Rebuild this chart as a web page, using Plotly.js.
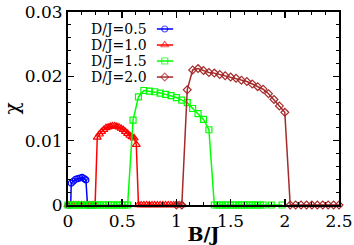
<!DOCTYPE html>
<html>
<head>
<meta charset="utf-8">
<script src="https://cdn.plot.ly/plotly-3.0.1.min.js"></script>
<style>html,body{margin:0;padding:0;background:#fff;}#chart{width:354px;height:245px;}</style>
</head>
<body>
<div id="chart"></div>
<script>
// ---- data ----
const seriesNames = ["D/J=0.5", "D/J=1.0", "D/J=1.5", "D/J=2.0"];

const blueB   = [0, 0.015, 0.025, 0.03, 0.05, 0.07, 0.09, 0.11, 0.13, 0.15, 0.165, 0.18, 0.2, 0.22, 0.24];
const blueChi = [0, 0, 0, 0.0034, 0.0037, 0.0040, 0.0041, 0.0042, 0.0043, 0.0041, 0.0039, 0, 0, 0, 0];

const redB = [0, 0.025, 0.05, 0.075, 0.1, 0.125, 0.15, 0.175, 0.2, 0.225, 0.25,
  0.27, 0.29, 0.31, 0.33, 0.35, 0.37, 0.39, 0.41, 0.43, 0.45, 0.47, 0.49, 0.51, 0.53, 0.55, 0.57, 0.59, 0.61, 0.63,
  0.65, 0.675, 0.7, 0.725, 0.75, 0.775, 0.8, 0.825, 0.85, 0.875, 0.9, 0.925, 0.95, 0.975, 1.0, 1.025, 1.05];
const redChi = [0, 0, 0, 0, 0, 0, 0, 0, 0, 0, 0,
  0.0105, 0.0110, 0.0114, 0.0117, 0.0120, 0.0121, 0.0122, 0.0123, 0.0123, 0.0122, 0.0121, 0.0119, 0.0117, 0.0114, 0.0111, 0.0108, 0.0106, 0.0104, 0.0094,
  0, 0, 0, 0, 0, 0, 0, 0, 0, 0, 0, 0, 0, 0, 0, 0, 0];

const greenB = [0, 0.025, 0.05, 0.075, 0.1, 0.125, 0.15, 0.175, 0.2, 0.225, 0.25, 0.275, 0.3, 0.325, 0.35, 0.375, 0.4, 0.425, 0.45, 0.475, 0.5, 0.525, 0.55,
  0.6, 0.65, 0.7, 0.75, 0.8, 0.85, 0.9, 0.95, 1.0, 1.05, 1.1, 1.15, 1.2, 1.25, 1.3,
  1.35, 1.375, 1.4, 1.425, 1.45, 1.475, 1.5, 1.525, 1.55, 1.575, 1.6, 1.625, 1.65, 1.675, 1.7, 1.725, 1.75, 1.775, 1.8, 1.875, 1.975];
const greenChi = [0, 0, 0, 0, 0, 0, 0, 0, 0, 0, 0, 0, 0, 0, 0, 0, 0, 0, 0, 0, 0, 0, 0,
  0.0132, 0.0168, 0.0178, 0.0177, 0.0176, 0.0174, 0.0172, 0.0170, 0.0167, 0.0163, 0.0159, 0.0150, 0.0142, 0.0133, 0.0117,
  0, 0, 0, 0, 0, 0, 0, 0, 0, 0, 0, 0, 0, 0, 0, 0, 0, 0, 0, 0, 0];

const brownB = [1.0, 1.05,
  1.1, 1.15, 1.2, 1.25, 1.3, 1.35, 1.4, 1.45, 1.5, 1.55, 1.6, 1.65, 1.7, 1.75, 1.8, 1.85, 1.9, 1.95, 2.0,
  2.05, 2.1, 2.15, 2.2, 2.25, 2.3, 2.35, 2.4, 2.45, 2.5];
const brownChi = [0, 0,
  0.0179, 0.0210, 0.0212, 0.0209, 0.0206, 0.0205, 0.0203, 0.0201, 0.0199, 0.0197, 0.0194, 0.0192, 0.0188, 0.0184, 0.0180, 0.0173, 0.0164, 0.0154, 0.0144,
  0, 0, 0, 0, 0, 0, 0, 0, 0, 0];

const xTickVals = [0, 0.5, 1, 1.5, 2, 2.5];
const xTickText = ["0", "0.5", "1", "1.5", "2", "2.5"];
const yTickVals = [0, 0.01, 0.02, 0.03];
const yTickText = ["0", "0.01", "0.02", "0.03"];

// ---- styling ----
const colors  = ["#0000ff", "#ff0000", "#00ff00", "#a52a2a"];
const symbols = ["circle-open", "triangle-up-open", "square-open", "diamond-open"];
const msizes  = [6, 7, 6, 6];
const xs = [blueB, redB, greenB, brownB];
const ys = [blueChi, redChi, greenChi, brownChi];
const FONT = "DejaVu Serif";

const traces = [];
for (let i = 0; i < 4; i++) {
  traces.push({
    x: xs[i], y: ys[i], name: seriesNames[i], type: "scatter", mode: "lines+markers",
    line: {color: colors[i], width: 1.5},
    marker: {symbol: symbols[i], size: msizes[i], color: colors[i], line: {width: 1.2, color: colors[i]}},
    showlegend: false, cliponaxis: false
  });
}

// legend samples (drawn on hidden overlay axes in plot-fraction units)
const legRowY = [0.912, 0.829, 0.746, 0.663];
const legX0 = 0.328, legX1 = 0.388, legXm = 0.357, legTextX = 0.296;
const annotations = [];
for (let i = 0; i < 4; i++) {
  traces.push({
    x: [legX0, legXm, legX1], y: [legRowY[i], legRowY[i], legRowY[i]],
    xaxis: "x2", yaxis: "y2", type: "scatter", mode: "lines+markers",
    line: {color: colors[i], width: 1.5},
    marker: {symbol: symbols[i], size: [0, msizes[i], 0], color: colors[i], line: {width: 1.2, color: colors[i]}},
    showlegend: false, hoverinfo: "skip"
  });
  annotations.push({
    xref: "x2", yref: "y2", x: legTextX, y: legRowY[i], xanchor: "right", yanchor: "middle",
    text: seriesNames[i], showarrow: false, borderpad: 0,
    font: {family: FONT, size: 14, color: "#000"}
  });
}

const axisCommon = {
  showline: true, linecolor: "#000", linewidth: 2, mirror: "ticks",
  ticks: "inside", ticklen: 6, tickwidth: 1.5, tickcolor: "#000",
  showgrid: false, zeroline: false,
  tickfont: {family: FONT, size: 17, color: "#000"}
};

const layout = {
  width: 354, height: 245,
  margin: {l: 68, r: 15, t: 12, b: 40},
  paper_bgcolor: "#fff", plot_bgcolor: "#fff",
  showlegend: false,
  xaxis: Object.assign({}, axisCommon, {
    range: [0, 2.5], tickvals: xTickVals, ticktext: xTickText,
    minor: {dtick: 0.125, tick0: 0, ticks: "inside", ticklen: 3, tickwidth: 1, tickcolor: "#000"},
    title: {text: "<b>B/J</b>", font: {family: FONT, size: 19, color: "#000"}, standoff: 6}
  }),
  yaxis: Object.assign({}, axisCommon, {
    range: [0, 0.03], tickvals: yTickVals, ticktext: yTickText,
    minor: {dtick: 0.002, tick0: 0, ticks: "inside", ticklen: 3, tickwidth: 1, tickcolor: "#000"},
    title: {text: "χ", font: {family: FONT, size: 20, color: "#000"}, standoff: 8}
  }),
  xaxis2: {overlaying: "x", range: [0, 1], visible: false, fixedrange: true},
  yaxis2: {overlaying: "y", range: [0, 1], visible: false, fixedrange: true},
  annotations: annotations
};

Plotly.newPlot("chart", traces, layout, {displayModeBar: false, staticPlot: true});
</script>
</body>
</html>
